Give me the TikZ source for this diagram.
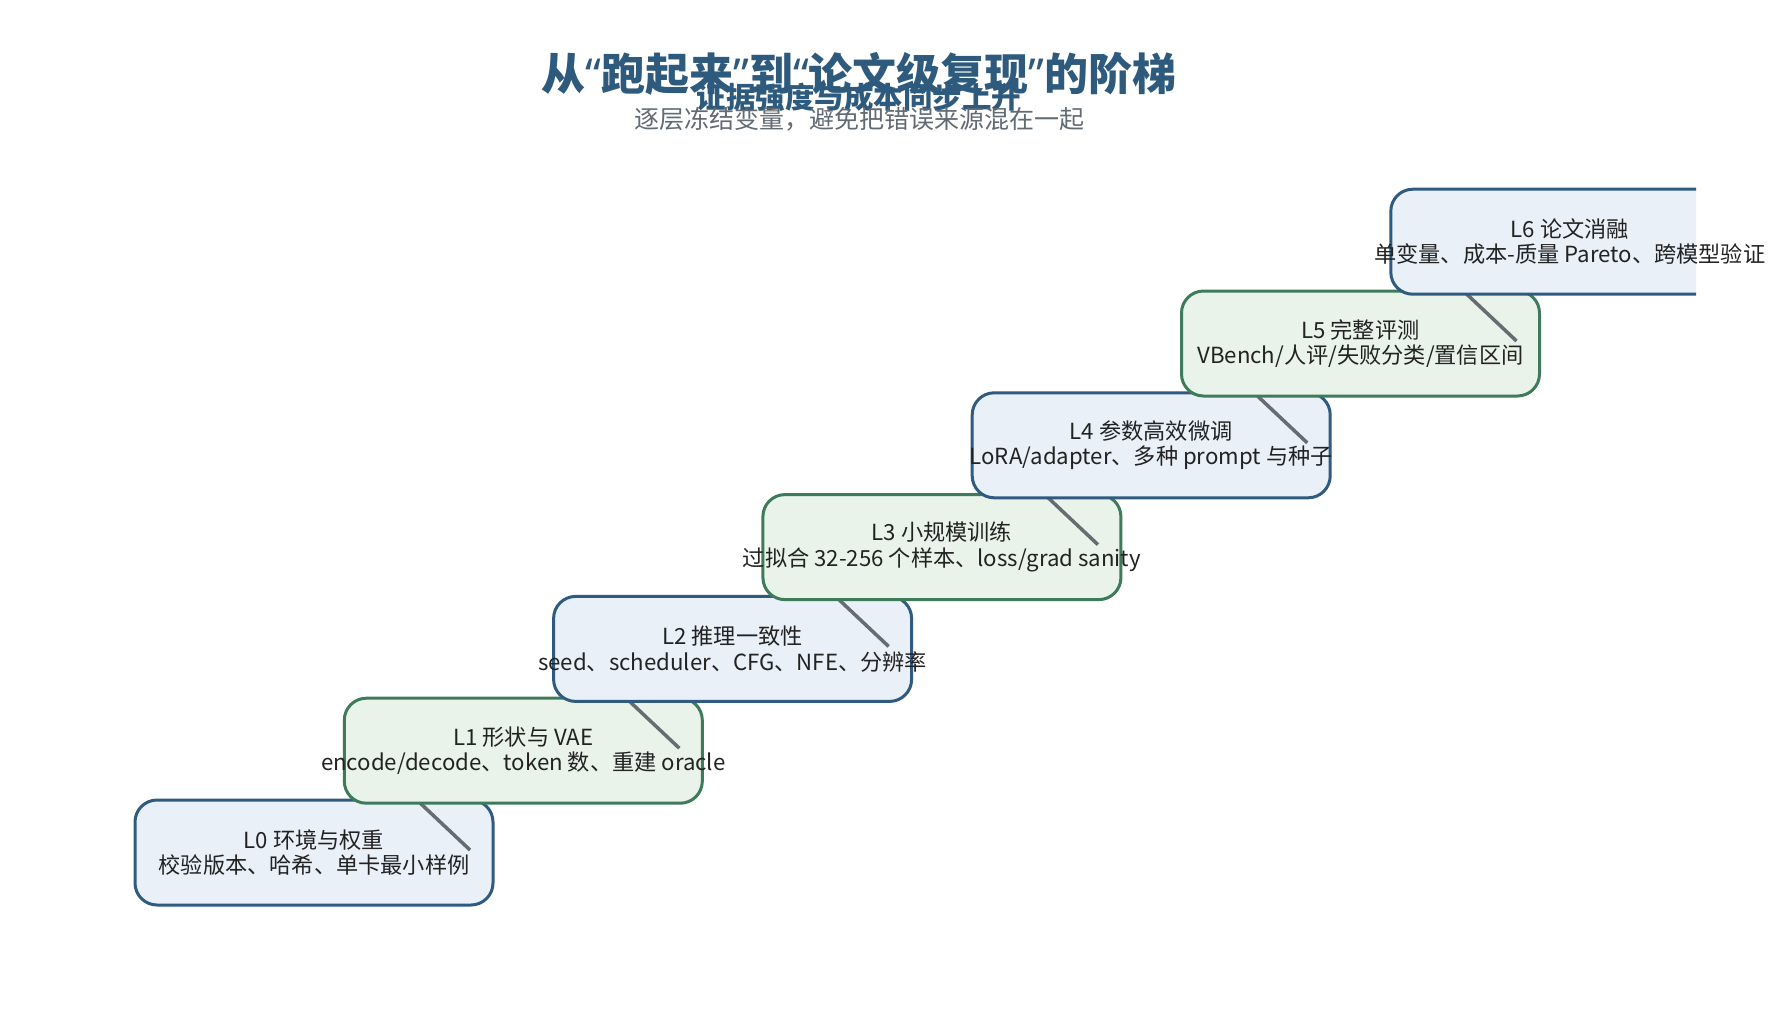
\documentclass[tikz,border=0pt]{standalone}
\usepackage{fontspec}
\setmainfont{Noto Sans CJK SC}
\newfontfamily\quotefont{Noto Sans}
\usetikzlibrary{positioning}
\definecolor{stepblue}{HTML}{2F5B80}
\definecolor{stepbluefill}{HTML}{E9F0F7}
\definecolor{stepgreen}{HTML}{3E7B5B}
\definecolor{stepgreenfill}{HTML}{E9F3EA}
\definecolor{risergray}{HTML}{676C73}
\definecolor{titleblue}{HTML}{2E5A7D}
\definecolor{notegray}{HTML}{626A73}
\definecolor{textdark}{HTML}{222222}
\newcommand{\openq}{{\quotefont “}}
\newcommand{\closeq}{{\quotefont ”}}

\begin{document}
\begin{tikzpicture}[x=1pt,y=-1pt,
    box/.style={rounded corners=22pt,line width=3pt,minimum width=358pt,minimum height=105pt,inner sep=0pt},
    bluebox/.style={box,draw=stepblue,fill=stepbluefill},
    greenbox/.style={box,draw=stepgreen,fill=stepgreenfill},
    riser/.style={draw=risergray,line width=3.5pt},
    steptext/.style={align=center,text=textdark,font=\fontsize{22.2}{25.5}\selectfont}]

    \useasboundingbox (0,0) rectangle (1786,1013);

    % TITLE
    \node[font=\fontsize{44}{50}\selectfont\bfseries,text=titleblue] (title) at (859,74) {从\openq 跑起来\closeq 到\openq 论文级复现\closeq 的阶梯};
    \node[font=\fontsize{29.5}{32}\selectfont\bfseries,text=titleblue] (subtitle) at (859,97) {证据强度与成本同步上升};
    \node[font=\fontsize{25}{28}\selectfont,text=notegray] (note) at (859,119) {逐层冻结变量，避免把错误来源混在一起};

    \begin{scope}
    \clip (0,0) rectangle (1696,1013);

    % STEP 0
    \begin{scope}[shift={(314,852.5)}]
        \node[bluebox] (L0) at (0,0) {};
        \coordinate (e0) at (156,-2.5);
    \end{scope}

    % STEP 1
    \begin{scope}[shift={(523.3,750.7)}]
        \coordinate (s1) at (-103,52.5);
        \draw[riser] (s1) -- (e0);
        \node[greenbox] (L1) at (0,0) {};
        \coordinate (e1) at (156,-2.5);
    \end{scope}

    % STEP 2
    \begin{scope}[shift={(732.6,648.9)}]
        \coordinate (s2) at (-103,52.5);
        \draw[riser] (s2) -- (e1);
        \node[bluebox] (L2) at (0,0) {};
        \coordinate (e2) at (156,-2.5);
    \end{scope}

    % STEP 3
    \begin{scope}[shift={(941.9,547.1)}]
        \coordinate (s3) at (-103,52.5);
        \draw[riser] (s3) -- (e2);
        \node[greenbox] (L3) at (0,0) {};
        \coordinate (e3) at (156,-2.5);
    \end{scope}

    % STEP 4
    \begin{scope}[shift={(1151.2,445.3)}]
        \coordinate (s4) at (-103,52.5);
        \draw[riser] (s4) -- (e3);
        \node[bluebox] (L4) at (0,0) {};
        \coordinate (e4) at (156,-2.5);
    \end{scope}

    % STEP 5
    \begin{scope}[shift={(1360.5,343.5)}]
        \coordinate (s5) at (-103,52.5);
        \draw[riser] (s5) -- (e4);
        \node[greenbox] (L5) at (0,0) {};
        \coordinate (e5) at (156,-2.5);
    \end{scope}

    % STEP 6
    \begin{scope}[shift={(1569.8,241.7)}]
        \coordinate (s6) at (-103,52.5);
        \draw[riser] (s6) -- (e5);
        \node[bluebox] (L6) at (0,0) {};
    \end{scope}

    \end{scope}

    % LABELS
    \node[steptext] (t0) at (L0) {L0 环境与权重\\校验版本、哈希、单卡最小样例};
    \node[steptext] (t1) at (L1) {L1 形状与 VAE\\encode/decode、token 数、重建 oracle};
    \node[steptext] (t2) at (L2) {L2 推理一致性\\seed、scheduler、CFG、NFE、分辨率};
    \node[steptext] (t3) at (L3) {L3 小规模训练\\过拟合 32-256 个样本、loss/grad sanity};
    \node[steptext] (t4) at (L4) {L4 参数高效微调\\LoRA/adapter、多种 prompt 与种子};
    \node[steptext] (t5) at (L5) {L5 完整评测\\VBench/人评/失败分类/置信区间};
    \node[steptext] (t6) at (L6) {L6 论文消融\\单变量、成本-质量 Pareto、跨模型验证};

\end{tikzpicture}
\end{document}
